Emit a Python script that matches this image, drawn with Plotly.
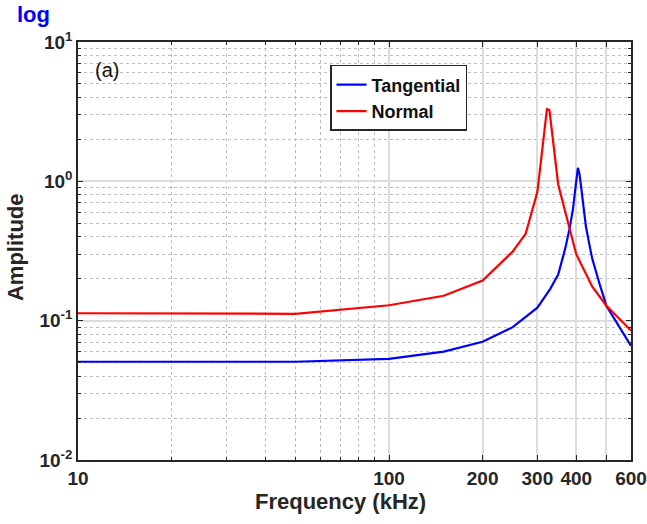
import plotly.graph_objects as go

# Data
freq_tan = [10, 50, 100, 150, 200, 250, 300, 330, 350, 370, 380, 390, 400, 405, 410, 420, 430, 440, 450, 475, 500, 600]
amp_tan = [0.0507, 0.0507, 0.0532, 0.0600, 0.0705, 0.0898, 0.1240, 0.169, 0.214, 0.34, 0.45, 0.62, 1.0, 1.25, 1.12, 0.70, 0.47, 0.36, 0.28, 0.185, 0.128, 0.066]

freq_norm = [10, 50, 100, 150, 200, 250, 275, 300, 322, 328, 350, 400, 450, 500, 600]
amp_norm = [0.113, 0.112, 0.129, 0.151, 0.194, 0.314, 0.42, 0.84, 3.3, 3.25, 0.95, 0.30, 0.176, 0.128, 0.085]

x_tickvals = [10, 100, 200, 300, 400, 500, 600]
x_ticktext = ["10", "100", "200", "300", "400", "", "600"]
x_minor = [20, 30, 40, 50, 60, 70, 80, 90]

y_tickvals = [0.01, 0.1, 1, 10]
y_ticktext = ["10<sup>-2</sup>", "10<sup>-1</sup>", "10<sup>0</sup>", "10<sup>1</sup>"]
y_minor = [m * d for d in (0.01, 0.1, 1) for m in range(2, 10)]

FONT = "Liberation Sans"
DARK = "#262626"

fig = go.Figure()
fig.add_trace(go.Scatter(x=freq_tan, y=amp_tan, mode="lines", name="Tangential",
                         line=dict(color="#0000ff", width=2.2)))
fig.add_trace(go.Scatter(x=freq_norm, y=amp_norm, mode="lines", name="Normal",
                         line=dict(color="#ff0000", width=2.2)))

fig.update_layout(
    width=647, height=524,
    margin=dict(l=78, r=16, t=42, b=64, autoexpand=False),
    plot_bgcolor="white", paper_bgcolor="white",
    font=dict(family=FONT, color=DARK),
    showlegend=True,
    legend=dict(x=0.4557, y=0.945, xanchor="left", yanchor="top",
                bgcolor="white", bordercolor=DARK, borderwidth=1.5,
                font=dict(family=FONT, size=18, color="#111111", weight="bold"),
                tracegroupgap=0, itemwidth=30),
    annotations=[
        dict(text="log", xref="paper", yref="paper", x=-0.114, y=1.0646,
             xanchor="left", yanchor="middle", showarrow=False,
             font=dict(family=FONT, size=22, color="#0000ff", weight="bold")),
        dict(text="(a)", xref="paper", yref="paper", x=0.0271, y=0.933,
             xanchor="left", yanchor="middle", showarrow=False,
             font=dict(family=FONT, size=20, color="#111111")),
        dict(text="Frequency (kHz)", xref="paper", yref="paper", x=0.474, y=-0.1,
             xanchor="center", yanchor="middle", showarrow=False,
             font=dict(family=FONT, size=22, color=DARK, weight="bold")),
        dict(text="Amplitude", xref="paper", yref="paper", x=-0.112, y=0.5096,
             xanchor="center", yanchor="middle", showarrow=False, textangle=-90,
             font=dict(family=FONT, size=22, color=DARK, weight="bold")),
    ],
)

fig.update_xaxes(
    type="log", range=[1, 2.77815], automargin=False,
    tickmode="array", tickvals=x_tickvals, ticktext=x_ticktext,
    tickfont=dict(family=FONT, size=19, color=DARK, weight="bold"),
    ticklabeloverflow="allow",
    ticks="inside", ticklen=5, tickcolor=DARK,
    showline=True, linecolor=DARK, linewidth=1.5, mirror="ticks",
    showgrid=True, gridcolor="#dcdcdc", gridwidth=1.5,
    minor=dict(tickvals=x_minor, showgrid=True, griddash="dot", gridcolor="#bdbdbd",
               gridwidth=1, ticks="inside", ticklen=3, tickcolor=DARK),
    zeroline=False,
)

fig.update_yaxes(
    type="log", range=[-2, 1], automargin=False,
    tickmode="array", tickvals=y_tickvals, ticktext=y_ticktext,
    tickfont=dict(family=FONT, size=19, color=DARK, weight="bold"),
    ticklabeloverflow="allow",
    ticks="inside", ticklen=5, tickcolor=DARK,
    showline=True, linecolor=DARK, linewidth=1.5, mirror="ticks",
    showgrid=True, gridcolor="#dcdcdc", gridwidth=1.5,
    minor=dict(tickvals=y_minor, showgrid=True, griddash="dot", gridcolor="#bdbdbd",
               gridwidth=1, ticks="inside", ticklen=3, tickcolor=DARK),
    zeroline=False,
)

fig.write_html("out.html", config={"displayModeBar": False},
               post_script="document.body.style.margin='0px';")
